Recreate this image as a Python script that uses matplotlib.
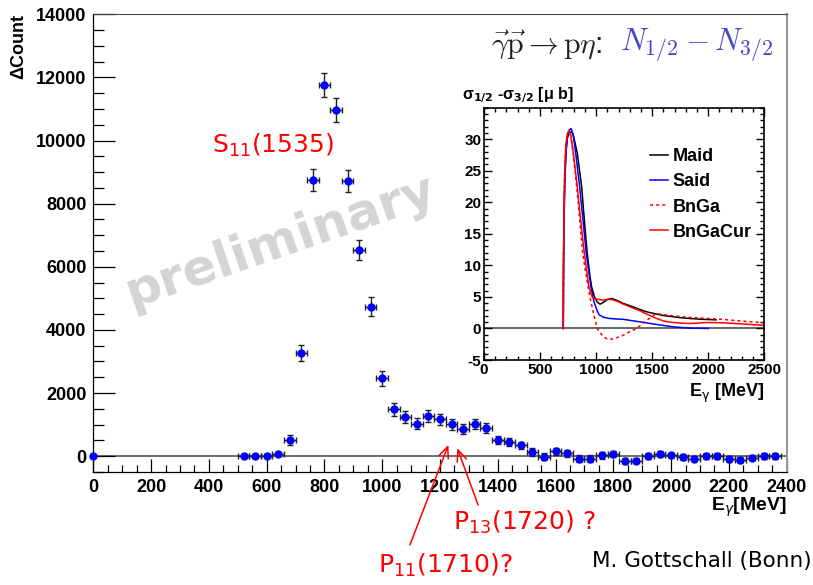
import matplotlib
matplotlib.use("Agg")
import matplotlib.pyplot as plt
from matplotlib.ticker import MultipleLocator

plt.rcParams['font.family'] = ['Liberation Sans', 'DejaVu Sans']

# ---------------- main data (photon energy bins, asymmetry counts) ----------------
energy = [0, 520, 560, 600, 640, 680, 720, 760, 800, 840, 880, 920, 960, 1000,
          1040, 1080, 1120, 1160, 1200, 1240, 1280, 1320, 1360, 1400, 1440, 1480,
          1520, 1560, 1600, 1640, 1680, 1720, 1760, 1800, 1840, 1880, 1920, 1960,
          2000, 2040, 2080, 2120, 2160, 2200, 2240, 2280, 2320, 2360]
dcount = [0, 0, 0, 20, 80, 500, 3270, 8750, 11760, 10960, 8710, 6530, 4740, 2470,
          1480, 1240, 1030, 1260, 1170, 1010, 850, 1010, 880, 520, 450, 340,
          140, -10, 160, 90, -76, -76, 25, 80, -145, -140, 0, 73,
          25, -30, -75, 0, 0, -90, -120, -43, 0, 0]
dcount_err = [0, 30, 30, 40, 60, 160, 250, 350, 380, 375, 350, 330, 300, 240,
              210, 190, 180, 190, 170, 170, 160, 160, 160, 120, 120, 120,
              120, 110, 110, 100, 100, 100, 100, 100, 90, 90, 90, 90,
              90, 90, 90, 90, 90, 90, 90, 90, 90, 90]
bin_half = 20

x_ticks = [0, 200, 400, 600, 800, 1000, 1200, 1400, 1600, 1800, 2000, 2200, 2400]
x_ticklabels = [str(t) for t in x_ticks]
y_ticks = [0, 2000, 4000, 6000, 8000, 10000, 12000, 14000]
y_ticklabels = [str(t) for t in y_ticks]

# ---------------- inset model curves (sigma_1/2 - sigma_3/2, microbarn) ----------------
maid_E = [707, 709, 713, 720, 731, 743, 760, 782, 800, 832, 871, 895, 921, 945, 960,
          985, 1010, 1035, 1070, 1100, 1139, 1180, 1243, 1320, 1391, 1460, 1540,
          1620, 1689, 1760, 1837, 1950, 2070]
maid_v = [0, 9, 17, 23.5, 27.8, 30.2, 31.0, 31.2, 30.4, 27.8, 22.5, 17.2, 11.9, 8.3, 6.6,
          5.0, 4.2, 3.85, 4.2, 4.6, 4.76, 4.5, 3.96, 3.5, 3.0, 2.6, 2.27,
          2.0, 1.85, 1.7, 1.58, 1.45, 1.37]

said_E = [707, 710, 715, 722, 733, 748, 762, 776, 795, 818, 853, 883, 912, 954, 980,
          1005, 1025, 1064, 1113, 1180, 1243, 1391, 1540, 1689, 1837, 2000]
said_v = [0, 10, 18, 24, 28.5, 30.8, 31.5, 31.7, 30.8, 27.8, 22.5, 17.2, 11.9, 6.6, 4.3,
          3.0, 2.2, 1.8, 1.6, 1.5, 1.45, 1.05, 0.63, 0.26, 0.05, 0]

bnga_E = [707, 709, 713, 720, 730, 742, 758, 775, 797, 832, 862, 880, 915, 945, 975,
          1010, 1050, 1090, 1124, 1180, 1243, 1300, 1362, 1451, 1525, 1560, 1689,
          1837, 1986, 2135, 2284, 2500]
bnga_v = [0, 10, 18, 25, 29, 30.8, 31.3, 30.5, 27.6, 21.5, 15.5, 11.9, 8.0, 5.0, 2.5,
          0, -1.0, -1.6, -1.75, -1.5, -1.06, -0.5, 0, 1.3, 2.2, 2.3, 2.0,
          1.75, 1.6, 1.43, 1.2, 0.9]

cur_E = [707, 709, 713, 720, 730, 742, 758, 775, 797, 832, 862, 895, 936, 965, 990,
         1025, 1064, 1100, 1139, 1190, 1243, 1320, 1391, 1460, 1540, 1610, 1689,
         1760, 1837, 1910, 1986, 2135, 2284, 2500]
cur_v = [0, 10, 18, 25, 29, 30.8, 31.3, 30.5, 27.8, 22.5, 17.2, 11.9, 6.6, 5.0, 4.7,
         4.6, 4.5, 4.6, 4.6, 4.3, 3.86, 3.3, 2.8, 2.2, 1.58, 1.15, 0.95,
         0.85, 0.79, 0.85, 0.95, 0.9, 0.74, 0.5]

inset_xticks = [0, 500, 1000, 1500, 2000, 2500]
inset_yticks = [-5, 0, 5, 10, 15, 20, 25, 30]

# ---------------- figure ----------------
fig = plt.figure(figsize=(8.13, 5.85), dpi=100)
ax = fig.add_axes([0.1148, 0.1932, 0.8528, 0.7824])
ax.set_xlim(0, 2400)
ax.set_ylim(-500, 14000)

# watermark
fig.text(0.345, 0.588, 'preliminary', family='DejaVu Sans', fontweight='bold',
         fontsize=36, color='#d4d4d4', rotation=19, ha='center', va='center', zorder=0)

ax.axhline(0, color='#444444', lw=1.1, zorder=1)
ax.errorbar(energy[1:], dcount[1:], xerr=bin_half, yerr=dcount_err[1:], fmt='o',
            color='#0000ff', ms=5, ecolor='#222222', elinewidth=1, capsize=2,
            capthick=1, zorder=3)
ax.plot(energy[:1], dcount[:1], 'o', color='#0000ff', ms=5, clip_on=False, zorder=4)

ax.set_xticks(x_ticks, x_ticklabels, fontweight='bold', fontsize=13)
ax.set_yticks(y_ticks, y_ticklabels, fontweight='bold', fontsize=13)
ax.xaxis.set_minor_locator(MultipleLocator(50))
ax.yaxis.set_minor_locator(MultipleLocator(500))
ax.tick_params(axis='x', which='major', direction='in', length=9.5, width=0.9, pad=5)
ax.tick_params(axis='x', which='minor', direction='in', length=5, width=0.9)
ax.tick_params(axis='y', which='major', direction='in', length=15.5, width=0.9, pad=5)
ax.tick_params(axis='y', which='minor', direction='in', length=7.7, width=0.9)
for s in ['left', 'bottom']:
    ax.spines[s].set_linewidth(0.9)
ax.spines['top'].set_color('#444444')
ax.spines['right'].set_color('#999999')
ax.spines['right'].set_linewidth(1.5)

ax.text(-0.108, 1.0, '\u0394Count', transform=ax.transAxes, rotation=90, ha='center',
        va='top', fontsize=13, fontweight='bold')
ax.text(1.0, -0.0765, 'E$_{\\gamma}$[MeV]', transform=ax.transAxes, ha='right',
        va='center', fontsize=14, fontweight='bold')

# annotations
lab_kw = dict(color='red', fontsize=18, ha='left', va='baseline',
              family='DejaVu Sans', math_fontfamily='dejavusans')
fig.text(212 / 813, 1 - 153 / 585, r'$\mathregular{S_{11}(1535)}$', **lab_kw)
fig.text(453 / 813, 1 - 530 / 585, r'$\mathregular{P_{13}(1720)\ ?}$', **lab_kw)
fig.text(378 / 813, 1 - 573 / 585, r'$\mathregular{P_{11}(1710)?}$', **lab_kw)
ax.annotate('', xy=(1229, 358), xytext=(1096, -2810), xycoords='data',
            arrowprops=dict(arrowstyle='->,head_length=0.8,head_width=0.35',
                            color='red', lw=1.1, shrinkA=0, shrinkB=0),
            annotation_clip=False)
ax.annotate('', xy=(1260, 253), xytext=(1332, -1547), xycoords='data',
            arrowprops=dict(arrowstyle='->,head_length=0.8,head_width=0.35',
                            color='red', lw=1.1, shrinkA=0, shrinkB=0),
            annotation_clip=False)
fig.text(0.998, 1 - 567 / 585, 'M. Gottschall (Bonn)', family='DejaVu Sans',
         fontsize=15.5, ha='right', va='baseline')

# title
fig.text(602 / 813, 1 - 45 / 585, r'$\vec{\gamma}\vec{\mathrm{p}}\rightarrow\mathrm{p}\eta$:',
         fontsize=21.5, ha='right', va='center', math_fontfamily='cm', color='#222222')
fig.text(773 / 813, 1 - 45 / 585, r'$N_{1/2}-N_{3/2}$', fontsize=22.4, ha='right',
         va='center', math_fontfamily='cm', color='#4646c8')

# ---------------- inset ----------------
axi = fig.add_axes([0.5953, 0.3846, 0.3448, 0.4313])
axi.set_xlim(0, 2500)
axi.set_ylim(-5, 35)
axi.axhline(0, color='#666666', lw=1.4, zorder=1)
axi.plot(maid_E, maid_v, color='black', lw=1.1, label='Maid')
axi.plot(said_E, said_v, color='#0000ff', lw=1.1, label='Said')
axi.plot(bnga_E, bnga_v, color='red', lw=1.1, ls=(0, (2, 2)), label='BnGa')
axi.plot(cur_E, cur_v, color='red', lw=1.1, label='BnGaCur')

axi.set_xticks(inset_xticks, [str(t) for t in inset_xticks], fontweight='bold', fontsize=11)
axi.set_yticks(inset_yticks, [str(t) for t in inset_yticks], fontweight='bold', fontsize=11)
axi.xaxis.set_minor_locator(MultipleLocator(100))
axi.yaxis.set_minor_locator(MultipleLocator(1))
axi.tick_params(which='major', direction='in', length=5.5, width=1, top=True, right=True, pad=2)
axi.tick_params(which='minor', direction='in', length=2.7, width=1, top=True, right=True)
for s in axi.spines.values():
    s.set_linewidth(1.2)

axi.text(-0.078, 1.05, '\u03c3$_{\\mathbf{1/2}}$ -\u03c3$_{\\mathbf{3/2}}$ [\u03bc b]',
         transform=axi.transAxes, ha='left', va='center', fontsize=11.5, fontweight='bold')
axi.text(1.0, -0.131, 'E$_{\\mathrm{\\gamma}}$ [MeV]', transform=axi.transAxes, ha='right',
         va='center', fontsize=13, fontweight='bold')
axi.legend(loc='upper left', bbox_to_anchor=(0.56, 0.875), frameon=False,
           handlelength=1.0, handletextpad=0.25, borderpad=0, labelspacing=0.45,
           prop={'weight': 'bold', 'size': 13})

fig.savefig('out.png', dpi=100)
